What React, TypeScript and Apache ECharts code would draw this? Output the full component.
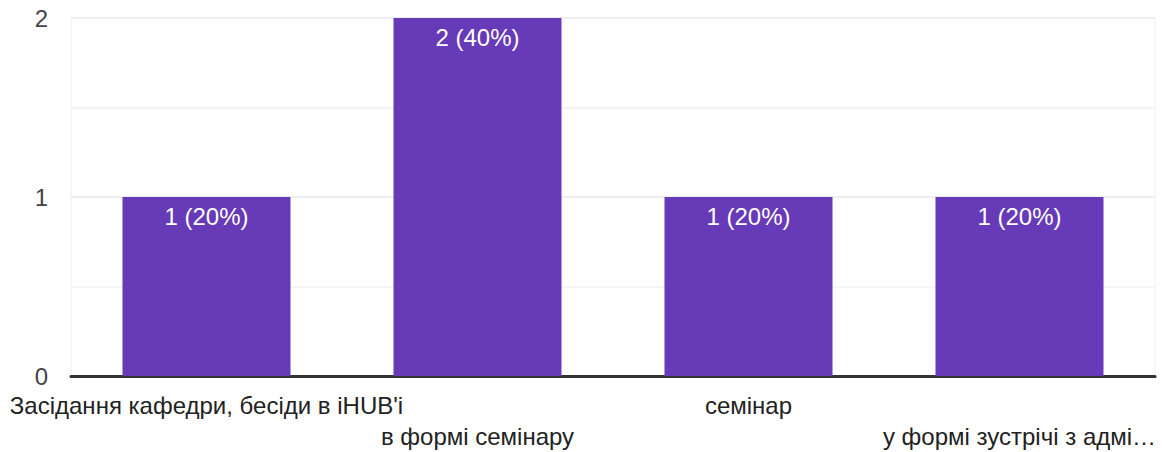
import React, { useEffect, useRef } from "react";
import * as echarts from "echarts";

const categories = [
  "Засідання кафедри, бесіди в iHUB'і",
  "в формі семінару",
  "семінар",
  "у формі зустрічі з адмі…",
];
const counts = [1, 2, 1, 1];
const percents = ["20%", "40%", "20%", "20%"];
const yTicks = [0, 1, 2];

export default function App() {
  const ref = useRef<HTMLDivElement>(null);
  useEffect(() => {
    if (!ref.current) return;
    const chart = echarts.init(ref.current, null, { renderer: "svg" });
    const font = "Liberation Sans, Arial, sans-serif";
    chart.setOption({
      animation: false,
      grid: {
        left: 71,
        right: 7,
        top: 18,
        bottom: 76,
        show: true,
        borderColor: "#eeeeee",
        borderWidth: 1,
      },
      xAxis: {
        type: "category",
        data: categories,
        axisLine: { show: true, lineStyle: { color: "#333333", width: 3 } },
        axisTick: { show: false },
        splitLine: { show: false },
        axisLabel: {
          interval: 0,
          color: "#222222",
          fontFamily: font,
          fontSize: 24,
          margin: 14,
          lineHeight: 31,
          formatter: (v: string, i: number) => (i % 2 === 1 ? "\n" + v : v),
        },
      },
      yAxis: {
        type: "value",
        min: 0,
        max: yTicks[yTicks.length - 1],
        interval: 1,
        axisLine: { show: false },
        axisTick: { show: false },
        axisLabel: {
          color: "#444444",
          fontFamily: font,
          fontSize: 24,
          margin: 23,
        },
        splitLine: { show: true, lineStyle: { color: "#eeeeee", width: 2 } },
        minorTick: { show: false, splitNumber: 2 },
        minorSplitLine: { show: true, lineStyle: { color: "#f5f5f5", width: 2 } },
      },
      series: [
        {
          type: "bar",
          data: counts,
          barWidth: "62%",
          itemStyle: { color: "#673ab7" },
          label: {
            show: true,
            position: "insideTop",
            distance: 7,
            color: "#ffffff",
            fontFamily: font,
            fontSize: 24,
            formatter: (p: any) => `${p.value} (${percents[p.dataIndex]})`,
          },
        },
      ],
    });
    return () => chart.dispose();
  }, []);
  return (
    <div
      ref={ref}
      style={{ position: "fixed", left: 0, top: 0, width: 1162, height: 452, background: "#fff" }}
    />
  );
}
